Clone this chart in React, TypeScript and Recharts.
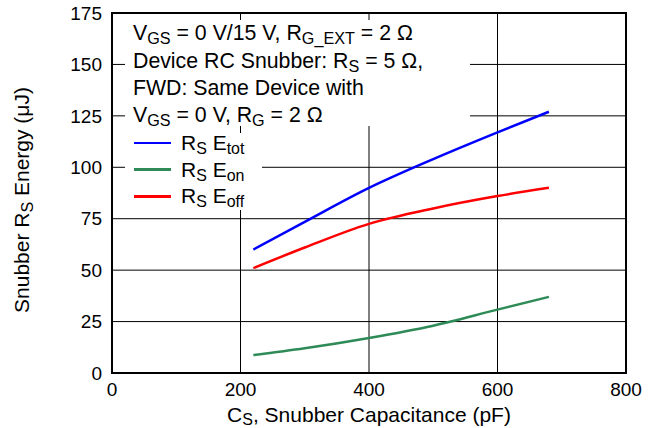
import React from "react";
import {
  LineChart,
  Line,
  XAxis,
  YAxis,
  CartesianGrid,
  ReferenceArea,
  Legend,
} from "recharts";

const FONT = '"Liberation Sans", Arial, Helvetica, sans-serif';

// snubber capacitance (pF)
const capacitance = [220, 300, 400, 500, 600, 680];
// snubber resistor energy (uJ)
const eTot = [60, 73.5, 90, 104, 117, 127];
const eOn = [8.7, 12, 17, 23, 30.8, 37];
const eOff = [51, 61, 72.5, 80, 86, 90];

const xTicks = [0, 200, 400, 600, 800];
const yTicks = [0, 25, 50, 75, 100, 125, 150, 175];

const data = capacitance.map((c, i) => ({
  c,
  tot: eTot[i],
  on: eOn[i],
  off: eOff[i],
}));

// legend rows, top to bottom
const legendOrder = ["tot", "on", "off"];

function Sub({ children }: { children: React.ReactNode }) {
  return (
    <span style={{ fontSize: "0.76em", position: "relative", top: 4 }}>{children}</span>
  );
}

function LegendBox(props: any) {
  const payload = props.payload || [];
  const byKey: Record<string, any> = {};
  payload.forEach((p: any) => (byKey[p.dataKey] = p));
  return (
    <div style={{ position: "relative", width: "100%", height: "100%" }}>
      {legendOrder.map((key, i) => (
        <div
          key={key}
          style={{
            position: "absolute",
            left: 0,
            top: i * 26.7,
            height: 20,
            display: "flex",
            alignItems: "center",
            fontFamily: FONT,
            fontSize: 21,
            color: "#000",
            whiteSpace: "nowrap",
          }}
        >
          <span
            style={{
              display: "inline-block",
              marginLeft: 9,
              width: 37,
              height: 2.5,
              background: byKey[key] ? byKey[key].color : "#000",
            }}
          />
          <span style={{ marginLeft: 10 }}>
            R<Sub>S</Sub> E<Sub>{key}</Sub>
          </span>
        </div>
      ))}
    </div>
  );
}

function XTitle(props: any) {
  const vb = props.viewBox || { x: 0, y: 0, width: 0, height: 0 };
  return (
    <text
      x={vb.x + vb.width / 2}
      y={vb.y + 49}
      textAnchor="middle"
      fontFamily={FONT}
      fontSize={21}
      fill="#000"
    >
      C<tspan fontSize={16} dy={3}>S</tspan>
      <tspan dy={-3}>, Snubber Capacitance (pF)</tspan>
    </text>
  );
}

function YTitle(props: any) {
  const vb = props.viewBox || { x: 0, y: 0, width: 0, height: 0 };
  const cx = vb.x + 29;
  const cy = vb.y + vb.height / 2 + 7;
  return (
    <text
      x={cx}
      y={cy}
      transform={`rotate(-90 ${cx} ${cy})`}
      textAnchor="middle"
      fontFamily={FONT}
      fontSize={21}
      fill="#000"
    >
      Snubber R<tspan fontSize={16} dy={4}>S</tspan>
      <tspan dy={-4}> Energy (μJ)</tspan>
    </text>
  );
}

export default function App() {
  return (
    <div
      style={{
        position: "fixed",
        left: 0,
        top: 0,
        width: 654,
        height: 428,
        background: "#fff",
      }}
    >
      <LineChart
        width={654}
        height={428}
        data={data}
        margin={{ top: 13, right: 28, bottom: 0, left: 0 }}
      >
        <CartesianGrid stroke="#000" strokeWidth={1} />
        <XAxis
          dataKey="c"
          type="number"
          domain={[0, 800]}
          ticks={xTicks}
          height={55}
          axisLine={false}
          tickLine={false}
          tickSize={0}
          tickMargin={10}
          tick={{ fontSize: 19, fill: "#000", fontFamily: FONT }}
          label={<XTitle />}
        />
        <YAxis
          type="number"
          domain={[0, 175]}
          ticks={yTicks}
          width={112}
          axisLine={false}
          tickLine={false}
          tickSize={0}
          tickMargin={10}
          tick={{ fontSize: 19, fill: "#000", fontFamily: FONT }}
          label={<YTitle />}
        />
        <ReferenceArea x1={0} x2={800} y1={0} y2={175} fill="none" stroke="#000" strokeWidth={2} />
        <Line
          dataKey="tot"
          type="monotone"
          stroke="#0000ff"
          strokeWidth={2.5}
          dot={false}
          isAnimationActive={false}
        />
        <Line
          dataKey="on"
          type="monotone"
          stroke="#2e8b57"
          strokeWidth={2.5}
          dot={false}
          isAnimationActive={false}
        />
        <Line
          dataKey="off"
          type="monotone"
          stroke="#ff0000"
          strokeWidth={2.5}
          dot={false}
          isAnimationActive={false}
        />
        <Legend
          layout="vertical"
          align="center"
          verticalAlign="middle"
          content={<LegendBox />}
          wrapperStyle={{
            position: "absolute",
            left: 125,
            top: 133,
            width: 137,
            height: 77,
            background: "#fff",
          }}
        />
      </LineChart>
      <div
        style={{
          position: "absolute",
          left: 125,
          top: 20,
          width: 337,
          height: 106,
          paddingLeft: 8,
          background: "#fff",
          fontFamily: FONT,
          fontSize: 21.3,
          lineHeight: "26.7px",
          color: "#000",
          whiteSpace: "nowrap",
          boxSizing: "content-box",
        }}
      >
        <div>
          V<Sub>GS</Sub> = 0 V/15 V, R<Sub>G_EXT</Sub> = 2 Ω
        </div>
        <div>
          Device RC Snubber: R<Sub>S</Sub> = 5 Ω,
        </div>
        <div>FWD: Same Device with</div>
        <div>
          V<Sub>GS</Sub> = 0 V, R<Sub>G</Sub> = 2 Ω
        </div>
      </div>
    </div>
  );
}
